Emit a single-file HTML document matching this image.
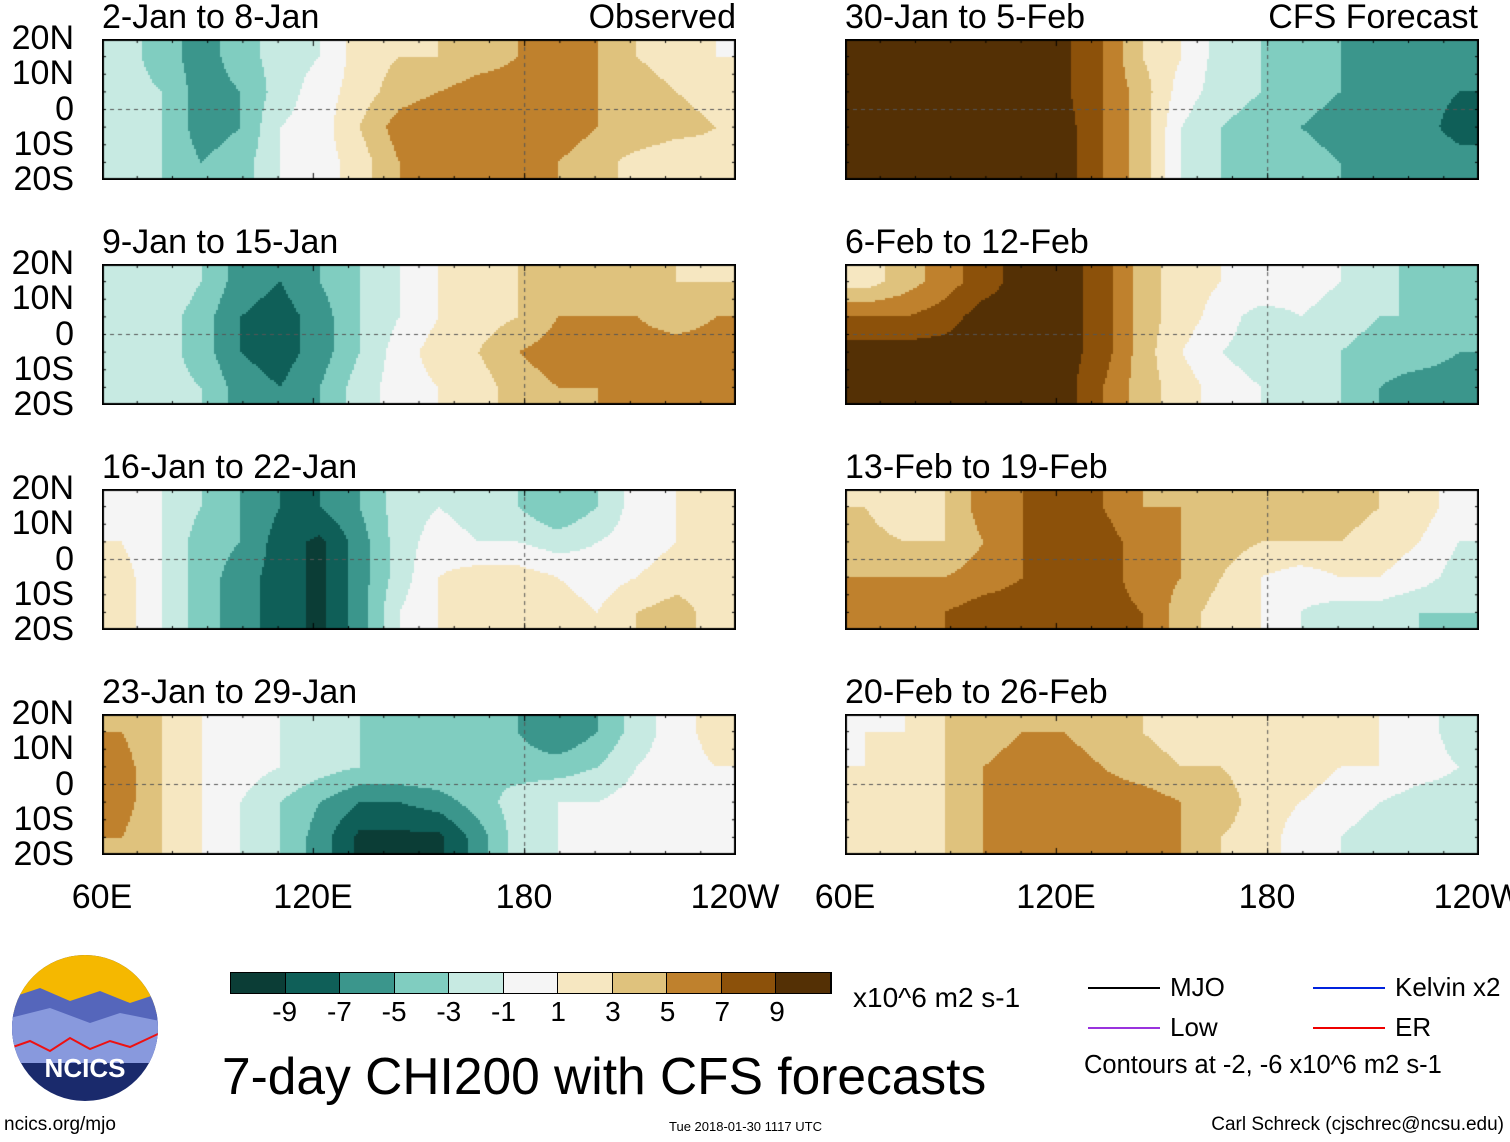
<!DOCTYPE html>
<html><head><meta charset="utf-8">
<style>
body{margin:0;background:#fff;font-family:"Liberation Sans",sans-serif;}
#root{position:relative;width:1510px;height:1142px;overflow:hidden;background:#fff;}
.t{position:absolute;color:#000;white-space:nowrap;}
canvas{position:absolute;}
</style></head><body>
<div id="root"></div>
<script>
const levels=[-9,-7,-5,-3,-1,1,3,5,7,9];
const colors=["#0b3d36","#0f5f58","#3b968c","#80cdc0","#c7eae2","#f5f5f5","#f6e7c1","#dfc27d","#bf812d","#8c510a","#543005"];
const colorbarLabels=["-9","-7","-5","-3","-1","1","3","5","7","9"];
const titles=["2-Jan to 8-Jan","9-Jan to 15-Jan","16-Jan to 22-Jan","23-Jan to 29-Jan","30-Jan to 5-Feb","6-Feb to 12-Feb","13-Feb to 19-Feb","20-Feb to 26-Feb"];
const latLabels=["20N","10N","0","10S","20S"];
const lonLabels=["60E","120E","180","120W"];
const p1=[[-2,-4,-6,-4,-2,-1,2,3,3,4,5,6,5,3,2,1],[-2,-3,-6,-5,-2,0,2,4,5,6,6,6,5,4,3,2],[-3,-3,-6,-5,-1,0,3,6,7,7,7,6,5,5,4,3],[-2,-3,-5,-4,-1,0,2,5,7,7,6,5,4,2,1,2]];
const p2=[[-1,-1,-3,-6,-7,-5,-3,-1,1,2,3,4,5,4,3,3],[-1,-2,-4,-7,-8,-6,-3,-1,1,2,3,5,5,5,4,5],[-2,-2,-4,-7,-8,-6,-3,0,2,3,5,6,6,6,6,6],[-1,-2,-3,-6,-7,-5,-2,0,1,2,4,5,5,6,7,6]];
const p3=[[0,-1,-3,-5,-7,-7,-5,-2,-1,-2,-3,-5,-3,0,1,2],[1,-1,-4,-5,-8,-9.5,-6,-2,0,-1,-1,-2,-1,0,1,1],[2,-1,-4,-6,-8,-9.5,-6,-2,1,2,2,1,0,1,2,2],[2,-1,-4,-6,-8,-9.5,-6,-1,1,2,3,2,1,3,4,2]];
const p4=[[5,3,1,0,-1,-2,-3,-3,-3,-4,-5,-7,-5,-2,0,2],[6,3,1,0,-1,-2,-3,-3,-3,-3,-4,-4,-3,-1,0,1],[6,3,1,-1,-3,-5,-7,-7,-6,-4,-2,-1,-1,0,0,1],[5,3,1,-1,-3,-6,-9.5,-9.5,-9.5,-6,-2,-1,0,0,0,1]];
const p5=[[9.5,10,10,10,10,9.5,7,3,1,-2,-3,-4,-5,-6,-5,-5],[9.5,10,10,10,10,9.5,7,4,0,-2,-3,-4,-5,-6,-6,-7],[10,10,10,10,10,10,7,4,-1,-3,-4,-5,-6,-6,-6,-8],[10,10,10,10,10,10,7,4,-1,-3,-4,-4,-5,-5,-5,-6]];
const p6=[[2,4,6,8,10,10,8,4,2,1,1,0,-1,-2,-4,-3],[7,7,8,10,10,10,8,4,2,0,-2,-1,-2,-3,-3,-4],[10,10,10,10,10,10,8,4,1,-1,-2,-2,-3,-4,-4,-5],[10,10,10,10,10,10,7,4,2,0,-1,-2,-3,-5,-6,-6]];
const p7=[[3,1,3,6,7,8,7,5,5,5,4,4,4,3,2,0],[4,3,3,5,7,8,8,6,5,4,3,3,3,2,1,-1],[5,5,5,6,7,8,8,6,5,3,1,0,1,1,0,-2],[6,6,7,8,8,8,8,7,4,2,1,-1,-2,-2,-3,-3]];
const p8=[[1,1,3,4,5,5,4,3,2,3,3,3,2,1,0,-2],[1,2,3,5,6,6,5,4,3,3,2,2,1,1,0,-1],[2,2,3,5,6,6,6,6,5,4,2,1,0,-1,-2,-2],[2,2,3,5,6,6,6,6,5,3,2,0,-1,-2,-2,-1]];
const panels=[p1,p2,p3,p4,p5,p6,p7,p8];

const root=document.getElementById('root');
const PW=634,PH=141,lefts=[102,845],tops=[39,264,489,714];
function colorFor(v){let i=0;while(i<levels.length&&v>levels[i])i++;return colors[i];}
function lonX(lon){return (lon-60)/180*PW;}
function latY(lat){return (20-lat)/40*PH;}
function addText(txt,x,y,size,name,anchor){
  const d=document.createElement('div');d.className='t';d.textContent=txt;
  d.style.fontSize=size+'px';d.style.top=y+'px';
  if(anchor==='r'){d.style.right=(1510-x)+'px';}else if(anchor==='c'){d.style.left=x+'px';d.style.transform='translateX(-50%)';}else d.style.left=x+'px';
  
  
  root.appendChild(d);return d;
}
panels.forEach((data,k)=>{
  const col=k<4?0:1,row=k%4;const L=lefts[col],T=tops[row];
  const cv=document.createElement('canvas');cv.width=PW;cv.height=PH;
  cv.style.left=L+'px';cv.style.top=T+'px';
  
  
  root.appendChild(cv);
  const ctx=cv.getContext('2d');
  const nc=data[0].length,nr=data.length,s=2;
  for(let py=0;py<PH;py+=s){for(let px=0;px<PW;px+=s){
    let fx=(px+s/2)/PW*nc-0.5,fy=(py+s/2)/PH*nr-0.5;
    fx=Math.max(0,Math.min(nc-1,fx));fy=Math.max(0,Math.min(nr-1,fy));
    const x0=Math.floor(fx),y0=Math.floor(fy),x1=Math.min(nc-1,x0+1),y1=Math.min(nr-1,y0+1);
    const ax=fx-x0,ay=fy-y0;
    const v=(data[y0][x0]*(1-ax)+data[y0][x1]*ax)*(1-ay)+(data[y1][x0]*(1-ax)+data[y1][x1]*ax)*ay;
    ctx.fillStyle=colorFor(v);ctx.fillRect(px,py,s,s);
  }}
  ctx.strokeStyle='#555';ctx.setLineDash([4,4]);ctx.lineWidth=1;
  ctx.beginPath();ctx.moveTo(0,latY(0));ctx.lineTo(PW,latY(0));ctx.stroke();
  ctx.beginPath();ctx.moveTo(lonX(180),0);ctx.lineTo(lonX(180),PH);ctx.stroke();
  ctx.setLineDash([]);
  ctx.strokeStyle='#000';ctx.lineWidth=2;ctx.strokeRect(1,1,PW-2,PH-2);
  ctx.lineWidth=1;
  for(let lon=60;lon<=240;lon+=10){const x=lonX(lon);ctx.beginPath();ctx.moveTo(x,0);ctx.lineTo(x,lon%60?4:7);ctx.moveTo(x,PH);ctx.lineTo(x,PH-(lon%60?4:7));ctx.stroke();}
  for(let lat=-20;lat<=20;lat+=5){const y=latY(lat);ctx.beginPath();ctx.moveTo(0,y);ctx.lineTo(4,y);ctx.moveTo(PW,y);ctx.lineTo(PW-4,y);ctx.stroke();}
  addText(titles[k],L,T-41,34,'panel-title-'+(k+1));
  if(col===0){latLabels.forEach((l,i)=>addText(l,74,T+i*35.25-20,34,'lat-label','r'));}
  if(k===0)addText('Observed',736,T-41,34,'observed-label','r');
  if(k===4)addText('CFS Forecast',1478,T-41,34,'forecast-label','r');
  if(row===3){lonLabels.forEach((l,i)=>addText(l,L+i*211,T+PH+23,34,'lon-label','c'));}
});
const cb=document.createElement('div');cb.style.cssText='position:absolute;left:230px;top:972px;width:602px;height:22px;display:flex;border:1px solid #000;box-sizing:border-box';

colors.forEach(c=>{const s=document.createElement('div');s.style.cssText='flex:1;border-right:1px solid #000;background:'+c;
cb.appendChild(s);});
root.appendChild(cb);
colorbarLabels.forEach((l,i)=>addText(l,230+(i+1)*54.7,996,28,'colorbar-tick','c'));
addText('x10^6 m2 s-1',853,982,28,'colorbar-units');
addText('7-day CHI200 with CFS forecasts',222,1046,51.5,'main-title');
addText('ncics.org/mjo',4,1114,19,'source-url');
addText('Tue 2018-01-30 1117 UTC',669,1119,13,'timestamp');
addText('Carl Schreck (cjschrec@ncsu.edu)',1504,1114,19,'author','r');
const leg=[["MJO","#000",1088,987],["Kelvin x2","#0022dd",1313,987],["Low","#9933dd",1088,1027],["ER","#ee0000",1313,1027]];
leg.forEach(e=>{const l=document.createElement('div');l.style.cssText=`position:absolute;left:${e[2]}px;top:${e[3]}px;width:72px;height:2px;background:${e[1]}`;
root.appendChild(l);
addText(e[0],e[2]+82,e[3]-15,26,'legend-entry');});
addText('Contours at -2, -6 x10^6 m2 s-1',1084,1051,25.5,'contour-note');
</script>
<svg style="position:absolute;left:10px;top:953px" width="150" height="150">
<defs><clipPath id="cc"><circle cx="75" cy="75" r="73"/></clipPath></defs>
<g clip-path="url(#cc)">
<rect width="150" height="150" fill="#1a2a6c"/>
<rect width="150" height="60" fill="#f5b800"/>
<path d="M0 45 L30 35 L60 48 L90 38 L120 50 L150 40 L150 110 L0 110Z" fill="#5566bb"/>
<path d="M0 65 L40 55 L80 70 L110 60 L150 68 L150 110 L0 110Z" fill="#8899dd"/>
<path d="M0 95 L20 88 L40 98 L60 85 L80 96 L100 88 L120 94 L150 80" stroke="#e11" stroke-width="2" fill="none"/>
</g>
<text x="75" y="124" text-anchor="middle" fill="#fff" font-family="Liberation Sans" font-weight="bold" font-size="26">NCICS</text>
</svg>
</body></html>
